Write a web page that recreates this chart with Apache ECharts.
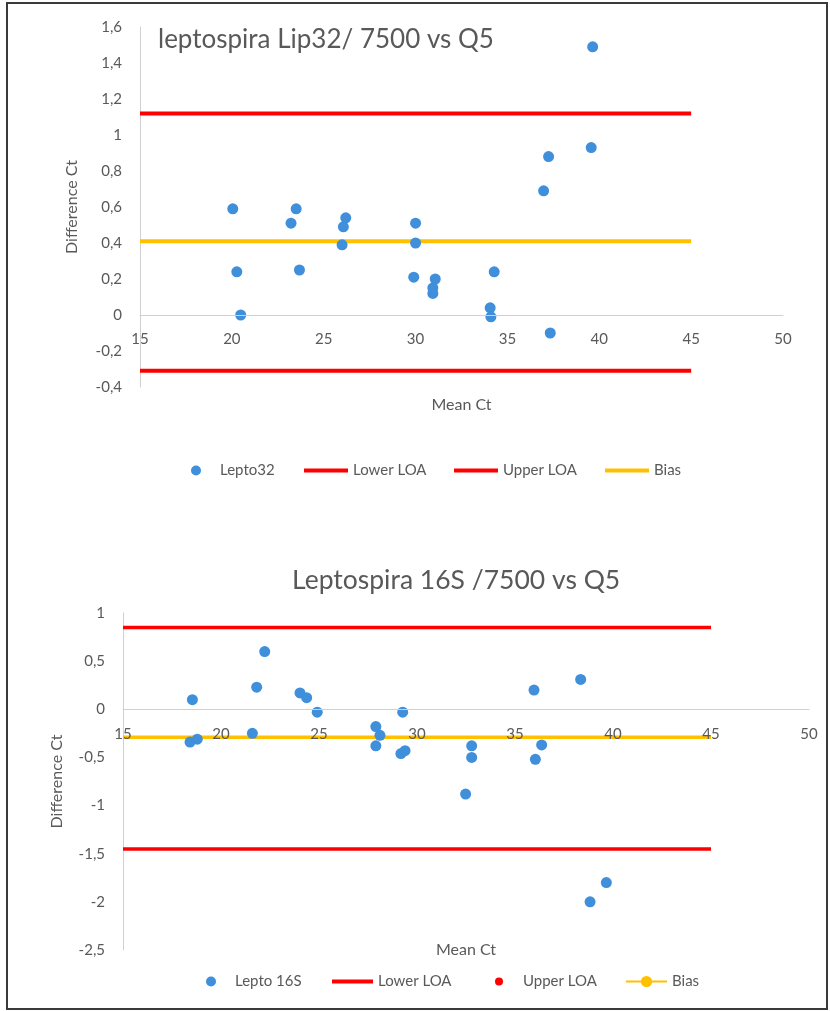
<!DOCTYPE html>
<html>
<head>
<meta charset="utf-8">
<script src="https://cdn.jsdelivr.net/npm/echarts@6/dist/echarts.min.js"></script>
<style>
  html, body { margin: 0; padding: 0; background: #ffffff; }
  #chart { width: 830px; height: 1011px; }
</style>
</head>
<body>
<div id="chart"></div>
<script>
// ---- Top chart data: leptospira Lip32 / 7500 vs Q5 ----
const lepto32Mean = [20.05, 20.27, 20.48, 23.22, 23.5, 23.68, 26.0, 26.07, 26.2, 29.9, 30.0, 30.0, 30.94, 30.94, 31.07, 34.06, 34.1, 34.28, 36.97, 37.24, 37.33, 39.56, 39.64];
const lepto32Diff = [0.59, 0.24, 0.0, 0.51, 0.59, 0.25, 0.39, 0.49, 0.54, 0.21, 0.51, 0.40, 0.15, 0.12, 0.20, 0.04, -0.01, 0.24, 0.69, 0.88, -0.10, 0.93, 1.49];
const top_lowerLOA = -0.31;
const top_upperLOA = 1.12;
const top_bias = 0.41;

// ---- Bottom chart data: Leptospira 16S / 7500 vs Q5 ----
const lepto16Mean = [18.42, 18.54, 18.79, 21.6, 21.82, 22.23, 24.03, 24.37, 24.91, 27.9, 27.9, 28.11, 29.18, 29.27, 29.39, 32.48, 32.79, 32.79, 35.97, 36.04, 36.36, 38.35, 38.83, 39.66];
const lepto16Diff = [-0.34, 0.10, -0.31, -0.25, 0.23, 0.60, 0.17, 0.12, -0.03, -0.18, -0.38, -0.27, -0.46, -0.03, -0.43, -0.88, -0.38, -0.50, 0.20, -0.52, -0.37, 0.31, -2.0, -1.8];
const bot_lowerLOA = -1.45;
const bot_upperLOA = 0.85;
const bot_bias = -0.29;

const lineXRange = [15, 45];

// ---- axis ranges / ticks ----
const xTicks = { min: 15, max: 50, interval: 5 };
const topYTicks = { min: -0.4, max: 1.6, interval: 0.2 };
const botYTicks = { min: -2.5, max: 1, interval: 0.5 };

const titles = ['leptospira Lip32/ 7500 vs Q5', 'Leptospira 16S /7500 vs Q5'];

const GREY = '#595959';
const BLUE = '#3f8fdb';
const RED = '#ff0000';
const GOLD = '#ffc000';
const FONT = 'Lato, "DejaVu Sans", sans-serif';

// grid geometry (layout only)
const G0 = { left: 140, top: 27, width: 643, height: 360 };
const G1 = { left: 123, top: 613, width: 686, height: 337 };

const zip = (xs, ys) => xs.map((x, i) => [x, ys[i]]);
const hline = (y) => lineXRange.map(x => [x, y]);
const fmtComma = v => String(Math.round(v * 10) / 10).replace('.', ',');
// distance (px) from grid bottom up to the value 0 on the y axis, so the x axis crosses at 0 like Excel
const zeroOffset = (g, t) => -g.height * (0 - t.min) / (t.max - t.min);

const legendNames = {
  'Lepto32': 'Lepto32', 'Lower LOA': 'Lower LOA', 'Upper LOA': 'Upper LOA', 'Bias': 'Bias',
  'Lepto 16S': 'Lepto 16S', 'Lower LOA 2': 'Lower LOA', 'Upper LOA 2': 'Upper LOA', 'Bias 2': 'Bias'
};

function xAxisCfg(grid, offset, nameGap) {
  return {
    gridIndex: grid, type: 'value', min: xTicks.min, max: xTicks.max, interval: xTicks.interval,
    position: 'bottom', offset: offset, z: 5,
    axisLine: { show: true, onZero: false, lineStyle: { color: '#d0d0d0', width: 1 } },
    axisTick: { show: false },
    splitLine: { show: false },
    axisLabel: { color: GREY, fontSize: 15, fontFamily: FONT, margin: 17 },
    name: 'Mean Ct', nameLocation: 'middle', nameGap: nameGap,
    nameTextStyle: { color: GREY, fontSize: 16, fontFamily: FONT }
  };
}
function yAxisCfg(grid, t, nameGap) {
  return {
    gridIndex: grid, type: 'value', min: t.min, max: t.max, interval: t.interval,
    axisLine: { show: true, onZero: false, lineStyle: { color: '#d0d0d0', width: 1 } },
    axisTick: { show: false },
    splitLine: { show: false },
    axisLabel: { color: GREY, fontSize: 15, fontFamily: FONT, margin: 18, formatter: fmtComma },
    name: 'Difference Ct', nameLocation: 'middle', nameGap: nameGap,
    nameTextStyle: { color: GREY, fontSize: 16, fontFamily: FONT }
  };
}
function legendCfg(name, left, top, w, h, pad, icon) {
  const item = icon ? { name: name, icon: icon } : name;
  return {
    data: [item], left: left, top: top, itemWidth: w, itemHeight: h, selectedMode: false,
    padding: 0,
    formatter: n => legendNames[n],
    textStyle: { color: GREY, fontSize: 15, fontFamily: FONT, padding: [0, 0, 0, pad] }
  };
}

const option = {
  animation: false,
  backgroundColor: '#ffffff',
  textStyle: { fontFamily: FONT },
  title: [
    { text: titles[0], left: 158, top: 27, padding: 0,
      textStyle: { color: GREY, fontSize: 26, fontWeight: 'normal', fontFamily: FONT } },
    { text: titles[1], left: 292, top: 567, padding: 0,
      textStyle: { color: GREY, fontSize: 26.5, fontWeight: 'normal', fontFamily: FONT } }
  ],
  grid: [
    Object.assign({ containLabel: false, outerBoundsMode: 'none' }, G0),
    Object.assign({ containLabel: false, outerBoundsMode: 'none' }, G1)
  ],
  xAxis: [xAxisCfg(0, zeroOffset(G0, topYTicks), 82), xAxisCfg(1, zeroOffset(G1, botYTicks), 233)],
  yAxis: [yAxisCfg(0, topYTicks, 60), yAxisCfg(1, botYTicks, 58)],
  legend: [
    legendCfg('Lepto32', 191, 463, 10, 10, 14),
    legendCfg('Lower LOA', 304, 463, 44, 4, 0, 'rect'),
    legendCfg('Upper LOA', 454, 463, 44, 4, 0, 'rect'),
    legendCfg('Bias', 605, 463, 44, 4, 0, 'rect'),
    legendCfg('Lepto 16S', 206, 974, 10, 10, 14),
    legendCfg('Lower LOA 2', 332, 974, 41, 4, 0, 'rect'),
    legendCfg('Upper LOA 2', 495, 974, 8, 8, 15, 'circle'),
    legendCfg('Bias 2', 625, 974, 41, 14, 0)
  ],
  graphic: [
    { type: 'rect', shape: { x: 7, y: 3, width: 820, height: 1006 },
      style: { fill: 'none', stroke: '#3a3a3a', lineWidth: 2 }, silent: true, z: 100 }
  ],
  series: [
    { name: 'Lower LOA', type: 'line', xAxisIndex: 0, yAxisIndex: 0, data: hline(top_lowerLOA),
      symbol: 'none', lineStyle: { color: RED, width: 4 }, itemStyle: { color: RED }, z: 2 },
    { name: 'Upper LOA', type: 'line', xAxisIndex: 0, yAxisIndex: 0, data: hline(top_upperLOA),
      symbol: 'none', lineStyle: { color: RED, width: 4 }, itemStyle: { color: RED }, z: 2 },
    { name: 'Bias', type: 'line', xAxisIndex: 0, yAxisIndex: 0, data: hline(top_bias),
      symbol: 'none', lineStyle: { color: GOLD, width: 4 }, itemStyle: { color: GOLD }, z: 2 },
    { name: 'Lepto32', type: 'scatter', xAxisIndex: 0, yAxisIndex: 0, data: zip(lepto32Mean, lepto32Diff),
      symbol: 'circle', symbolSize: 11, itemStyle: { color: BLUE, opacity: 1 }, z: 4 },

    { name: 'Lower LOA 2', type: 'line', xAxisIndex: 1, yAxisIndex: 1, data: hline(bot_lowerLOA),
      symbol: 'none', lineStyle: { color: RED, width: 3.5 }, itemStyle: { color: RED }, z: 2 },
    { name: 'Upper LOA 2', type: 'line', xAxisIndex: 1, yAxisIndex: 1, data: hline(bot_upperLOA),
      symbol: 'none', lineStyle: { color: RED, width: 3.5 }, itemStyle: { color: RED }, z: 2 },
    { name: 'Bias 2', type: 'line', xAxisIndex: 1, yAxisIndex: 1, data: hline(bot_bias),
      symbol: 'circle', symbolSize: 7, showSymbol: false, lineStyle: { color: GOLD, width: 3.5 }, itemStyle: { color: GOLD }, z: 2 },
    { name: 'Lepto 16S', type: 'scatter', xAxisIndex: 1, yAxisIndex: 1, data: zip(lepto16Mean, lepto16Diff),
      symbol: 'circle', symbolSize: 11, itemStyle: { color: BLUE, opacity: 1 }, z: 4 }
  ]
};

const chart = echarts.init(document.getElementById('chart'), null, { renderer: 'canvas' });
chart.setOption(option);
</script>
</body>
</html>
